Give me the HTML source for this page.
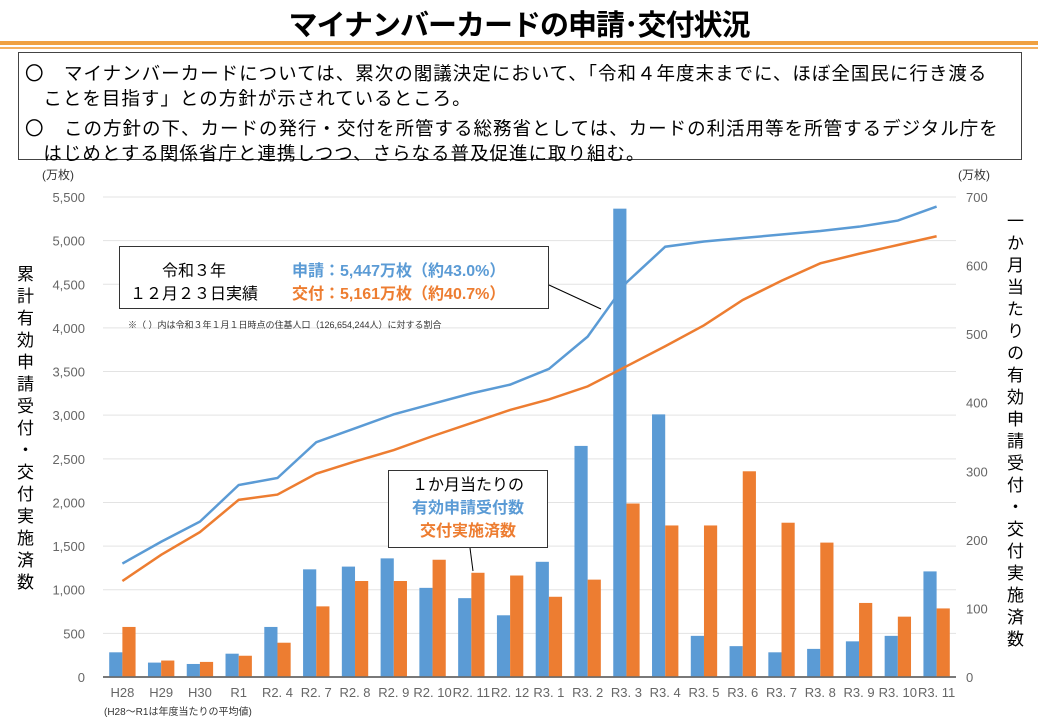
<!DOCTYPE html>
<html><head><meta charset="utf-8"><style>
body{margin:0;width:1038px;height:717px;background:#fff;font-family:"Liberation Sans","Noto Sans CJK JP",sans-serif;overflow:hidden;position:relative}
.t{position:absolute;white-space:nowrap}
.v{position:absolute;writing-mode:vertical-rl;font-size:17px;letter-spacing:5px;white-space:nowrap}
</style></head><body>
<div class="t" style="left:0;width:1038px;text-align:center;top:2px;font-size:29px;font-weight:bold;letter-spacing:-1px;">マイナンバーカードの申請･交付状況</div>
<div style="position:absolute;left:0;top:41px;width:1038px;height:4px;background:#f0a040"></div>
<div style="position:absolute;left:0;top:47px;width:1038px;height:2px;background:#f5b060"></div>
<div style="position:absolute;left:18px;top:52px;width:1004px;height:108px;border:1.5px solid #444;font-size:18.5px;letter-spacing:1px;line-height:25px;padding:8px 0 0 6px;box-sizing:border-box">
<div style="margin-bottom:5px">〇　マイナンバーカードについては、累次の閣議決定において、「令和４年度末までに、ほぼ全国民に行き渡る<br>&nbsp;&nbsp;&nbsp;ことを目指す」との方針が示されているところ。</div>
<div>〇　この方針の下、カードの発行・交付を所管する総務省としては、カードの利活用等を所管するデジタル庁を<br>&nbsp;&nbsp;&nbsp;はじめとする関係省庁と連携しつつ、さらなる普及促進に取り組む。</div>
</div>
<svg id="c" width="1038" height="717" style="position:absolute;left:0;top:0" font-family="Liberation Sans, Noto Sans CJK JP, sans-serif"></svg>
<script>
const categories=["H28","H29","H30","R1","R2. 4","R2. 7","R2. 8","R2. 9","R2. 10","R2. 11","R2. 12","R3. 1","R3. 2","R3. 3","R3. 4","R3. 5","R3. 6","R3. 7","R3. 8","R3. 9","R3. 10","R3. 11"];
const monthlyApplied=[36,21,19,34,73,157,161,173,130,115,90,168,337,683,383,60,45,36,41,52,60,154];
const monthlyIssued=[73,24,22,31,50,103,140,140,171,152,148,117,142,253,221,221,300,225,196,108,88,100];
const cumApplied=[1300,1550,1780,2200,2280,2690,2850,3010,3130,3250,3350,3530,3900,4520,4930,4990,5030,5070,5110,5160,5230,5390];
const cumIssued=[1100,1400,1660,2030,2090,2330,2470,2600,2760,2910,3060,3180,3330,3560,3790,4030,4320,4540,4740,4850,4950,5050];
const leftTicks=[0,500,1000,1500,2000,2500,3000,3500,4000,4500,5000,5500];
const rightTicks=[0,100,200,300,400,500,600,700];
const svg=document.getElementById('c');const NS='http://www.w3.org/2000/svg';
const X0=103,X1=956,Y0=677,Y1=197;
const band=(X1-X0)/categories.length;
const yL=v=>Y0-(v/5500)*(Y0-Y1);
const yR=v=>Y0-(v/700)*(Y0-Y1);
const xC=i=>X0+band*(i+0.5);
function mk(t,a,txt){const e=document.createElementNS(NS,t);for(const k in a)e.setAttribute(k,a[k]);if(txt!=null)e.textContent=txt;svg.appendChild(e);return e;}
leftTicks.forEach(v=>{
 const g=mk('line',{x1:X0,x2:X1,y1:yL(v),y2:yL(v),stroke:v?'#e3e3e3':'#666','stroke-width':v?1:1.5});
 
 
 const t=mk('text',{x:85,y:yL(v)+5,'text-anchor':'end','font-size':13,fill:'#666'},v.toLocaleString('en-US'));
 
 
});
rightTicks.forEach(v=>{
 const t=mk('text',{x:966,y:yR(v)+5,'font-size':13,fill:'#666'},String(v));
 
 
});
const bw=band*0.34;
categories.forEach((c,i)=>{
 const b1=mk('rect',{x:xC(i)-bw,y:yR(monthlyApplied[i]),width:bw,height:Y0-yR(monthlyApplied[i]),fill:'#5b9bd5'});
 
 
 const b2=mk('rect',{x:xC(i),y:yR(monthlyIssued[i]),width:bw,height:Y0-yR(monthlyIssued[i]),fill:'#ed7d31'});
 
 
 const t=mk('text',{x:xC(i),y:697,'text-anchor':'middle','font-size':13,fill:'#666'},c);
 
 
});
mk('line',{x1:X0,x2:X1,y1:Y0,y2:Y0,stroke:'#666','stroke-width':1.5});
const l1=mk('polyline',{points:cumApplied.map((v,i)=>xC(i)+','+yL(v)).join(' '),fill:'none',stroke:'#5b9bd5','stroke-width':2.5});


const l2=mk('polyline',{points:cumIssued.map((v,i)=>xC(i)+','+yL(v)).join(' '),fill:'none',stroke:'#ed7d31','stroke-width':2.5});


</script>
<div class="t" style="left:42px;top:166px;font-size:12px;color:#333">(万枚)</div>
<div class="t" style="left:958px;top:166px;font-size:12px;color:#333">(万枚)</div>
<div class="v" style="left:11px;top:265px;">累計有効申請受付・交付実施済数</div>
<div class="v" style="left:1001px;top:212px;">一か月当たりの有効申請受付・交付実施済数</div>
<div class="t" style="left:104px;top:703px;font-size:10px;color:#333">(H28～R1は年度当たりの平均値)</div>
<svg width="1038" height="717" style="position:absolute;left:0;top:0;pointer-events:none"><line x1="549" y1="285" x2="601" y2="309" stroke="#000"/><line x1="470" y1="548" x2="473" y2="571" stroke="#000"/></svg>
<div style="position:absolute;left:119px;top:246px;width:430px;height:63px;border:1.5px solid #333;background:#fff;box-sizing:border-box;font-size:16px;font-weight:bold">
<div class="t" style="left:42px;top:10px;font-weight:normal">令和３年</div>
<div class="t" style="left:10px;top:33px;font-weight:normal">１２月２３日実績</div>
<div class="t" style="left:172px;top:10px;color:#5b9bd5">申請：5,447万枚（約43.0%）</div>
<div class="t" style="left:172px;top:33px;color:#ed7d31">交付：5,161万枚（約40.7%）</div>
</div>
<div class="t" style="left:128px;top:318px;font-size:9px;color:#333">※（ ）内は令和３年１月１日時点の住基人口（126,654,244人）に対する割合</div>
<div style="position:absolute;left:388px;top:470px;width:160px;height:78px;border:1.5px solid #333;background:#fff;box-sizing:border-box;font-size:16px;text-align:center;line-height:23px;padding-top:3px">
<div>１か月当たりの</div><div style="color:#5b9bd5;font-weight:bold">有効申請受付数</div><div style="color:#ed7d31;font-weight:bold">交付実施済数</div>
</div>
</body></html>
